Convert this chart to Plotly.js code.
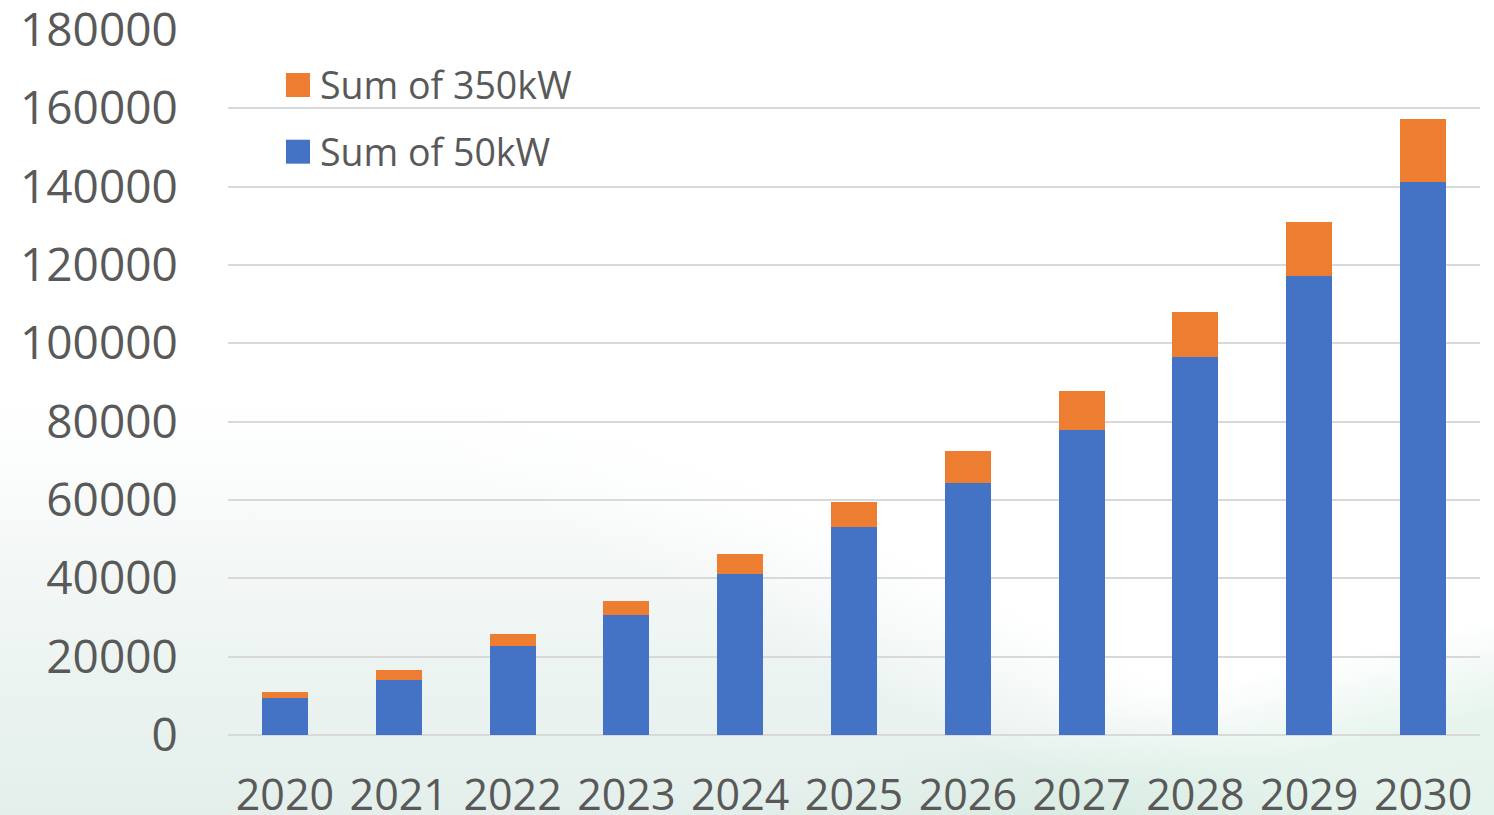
<!DOCTYPE html>
<html>
<head>
<meta charset="utf-8">
<script src="https://cdn.plot.ly/plotly-3.0.1.min.js"></script>
<style>
  html, body { margin: 0; padding: 0; width: 1494px; height: 815px; overflow: hidden; }
  body {
    background:
      linear-gradient(167deg, rgba(255,255,255,0) 83%, rgba(208,234,221,0.5) 91%, rgba(210,235,223,0.6) 100%),
      linear-gradient(207deg, rgba(255,255,255,1) 54%, rgba(255,255,255,0) 64%),
      linear-gradient(to top, rgba(228,239,235,1) 0%, rgba(236,244,241,1) 18%, rgba(244,248,247,1) 32%, rgba(252,253,253,1) 44%, rgba(255,255,255,1) 52%),
      #ffffff;
  }
  #chart { width: 1494px; height: 815px; }
</style>
</head>
<body>
<div id="chart"></div>
<script>
const years = ['2020','2021','2022','2023','2024','2025','2026','2027','2028','2029','2030'];
const sum50kW = [9500, 14000, 22600, 30600, 41200, 53000, 64400, 77900, 96400, 117300, 141300];
const sum350kW = [1500, 2500, 3200, 3600, 4900, 6400, 8200, 9900, 11700, 13700, 16100];
const seriesNames = ['Sum of 50kW', 'Sum of 350kW'];
const seriesColors = ['#4472C4', '#ED7D31'];
const yTicks = [0, 20000, 40000, 60000, 80000, 100000, 120000, 140000, 160000, 180000];

const traces = [
  { type: 'bar', name: seriesNames[0], x: years, y: sum50kW,
    marker: { color: seriesColors[0], line: { width: 0 } }, showlegend: false, hoverinfo: 'x+y+name' },
  { type: 'bar', name: seriesNames[1], x: years, y: sum350kW,
    marker: { color: seriesColors[1], line: { width: 0 } }, showlegend: false, hoverinfo: 'x+y+name' }
];

const yFont = { family: 'Open Sans, Calibri, sans-serif', size: 46, color: '#595959' };
const xFont = { family: 'Open Sans, Calibri, sans-serif', size: 43, color: '#595959' };
const legFont = { family: 'Open Sans, Calibri, sans-serif', size: 37.5, color: '#595959' };

// manual legend (paper coordinates of the plot area)
const legendEntries = [
  { name: seriesNames[1], color: seriesColors[1], yc: 0.922 },
  { name: seriesNames[0], color: seriesColors[0], yc: 0.8274 }
];
const shapes = legendEntries.map(e => ({
  type: 'rect', xref: 'paper', yref: 'paper',
  x0: 0.0463, x1: 0.0655, y0: e.yc - 0.017, y1: e.yc + 0.017,
  fillcolor: e.color, line: { width: 0 }, layer: 'above'
}));
const annotations = legendEntries.map(e => ({
  xref: 'paper', yref: 'paper', x: 0.0715, y: e.yc,
  xanchor: 'left', yanchor: 'middle', text: e.name, showarrow: false, font: legFont
}));

const layout = {
  width: 1494, height: 815,
  margin: { l: 228, r: 14, t: 30, b: 80, pad: 0 },
  paper_bgcolor: 'rgba(0,0,0,0)',
  plot_bgcolor: 'rgba(0,0,0,0)',
  barmode: 'stack',
  bargap: 0.596,
  showlegend: false,
  xaxis: {
    type: 'category',
    tickfont: xFont,
    ticks: 'outside', ticklen: 22, tickcolor: 'rgba(0,0,0,0)',
    ticklabeloverflow: 'allow',
    showgrid: false, showline: false, zeroline: false
  },
  yaxis: {
    range: [0, 180000],
    tickvals: yTicks,
    ticktext: yTicks.map(String),
    tickfont: yFont,
    ticks: 'outside', ticklen: 40, tickcolor: 'rgba(0,0,0,0)',
    ticklabeloverflow: 'allow',
    showgrid: true, gridcolor: '#d9d9d9', gridwidth: 2,
    zeroline: true, zerolinecolor: '#d9d9d9', zerolinewidth: 2,
    showline: false
  },
  shapes: shapes,
  annotations: annotations
};

Plotly.newPlot('chart', traces, layout, { displayModeBar: false, staticPlot: true });
</script>
</body>
</html>
